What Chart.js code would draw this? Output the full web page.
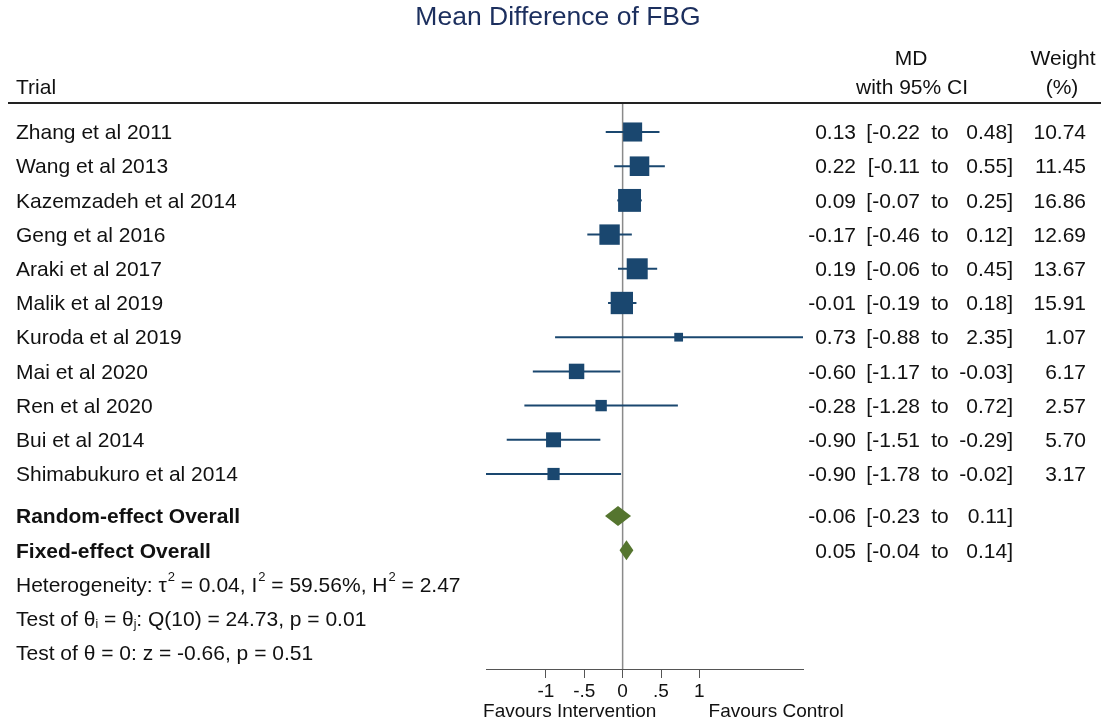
<!DOCTYPE html>
<html>
<head>
<meta charset="utf-8">
<title>Mean Difference of FBG</title>
<script src="https://cdn.jsdelivr.net/npm/chart.js@4.4.0/dist/chart.umd.min.js"></script>
<style>
  html, body { margin: 0; padding: 0; background: #fff; }
  canvas { display: block; }
</style>
</head>
<body>
<canvas id="forest" width="1101" height="723"></canvas>
<script>
// study-level results
const trials = ['Zhang et al 2011', 'Wang et al 2013', 'Kazemzadeh et al 2014', 'Geng et al 2016',
  'Araki et al 2017', 'Malik et al 2019', 'Kuroda et al 2019', 'Mai et al 2020', 'Ren et al 2020',
  'Bui et al 2014', 'Shimabukuro et al 2014'];
const md = [0.13, 0.22, 0.09, -0.17, 0.19, -0.01, 0.73, -0.60, -0.28, -0.90, -0.90];
const ciLow = [-0.22, -0.11, -0.07, -0.46, -0.06, -0.19, -0.88, -1.17, -1.28, -1.51, -1.78];
const ciHigh = [0.48, 0.55, 0.25, 0.12, 0.45, 0.18, 2.35, -0.03, 0.72, -0.29, -0.02];
const weights = [10.74, 11.45, 16.86, 12.69, 13.67, 15.91, 1.07, 6.17, 2.57, 5.70, 3.17];

// pooled estimates
const overallLabels = ['Random-effect Overall', 'Fixed-effect Overall'];
const overallMd = [-0.06, 0.05];
const overallLow = [-0.23, -0.04];
const overallHigh = [0.11, 0.14];

// x axis
const xTicks = [-1, -0.5, 0, 0.5, 1];
const xTickLabels = ['-1', '-.5', '0', '.5', '1'];
const xMin = -1.78, xMax = 2.35;

// footnote lines: [text, 'sup' | 'sub' | undefined]
const statLines = [
  [['Heterogeneity: \u03c4'], ['2', 'sup'], [' = 0.04, I'], ['2', 'sup'], [' = 59.56%, H'], ['2', 'sup'], [' = 2.47']],
  [['Test of \u03b8'], ['i', 'sub'], [' = \u03b8'], ['j', 'sub'], [': Q(10) = 24.73, p = 0.01']],
  [['Test of \u03b8 = 0: z = -0.66, p = 0.51']]
];

const FONT = '"Liberation Sans", Arial, sans-serif';
const BODY = '21px ' + FONT;
const NAVY = '#1a476f';
const GREEN = '#55752f';

// row layout (in y-scale units, one unit per trial row)
const gap = 0.23;
const overallRow = i => trials.length + gap + i;
const statRow = i => trials.length + overallLabels.length + gap + i;
const yMin = -0.848, yMax = 15.702;

const fmt = v => v.toFixed(2);

const squareSide = w => 4 + 4.6 * Math.sqrt(w);

const ciSets = trials.map((t, i) => ({
  type: 'line',
  data: [{ x: ciLow[i], y: i }, { x: ciHigh[i], y: i }],
  borderColor: NAVY,
  borderWidth: 2,
  pointRadius: 0,
  clip: false,
  order: 2
}));

const forestText = {
  id: 'forestText',
  afterDatasetsDraw(chart) {
    const ctx = chart.ctx;
    const xs = chart.scales.x, ys = chart.scales.y;
    const rowY = r => ys.getPixelForValue(r) + 1.5;

    // pooled diamonds
    ctx.save();
    ctx.fillStyle = GREEN;
    overallMd.forEach((m, i) => {
      const y = ys.getPixelForValue(overallRow(i));
      ctx.beginPath();
      ctx.moveTo(xs.getPixelForValue(overallLow[i]), y);
      ctx.lineTo(xs.getPixelForValue(m), y - 10);
      ctx.lineTo(xs.getPixelForValue(overallHigh[i]), y);
      ctx.lineTo(xs.getPixelForValue(m), y + 10);
      ctx.closePath();
      ctx.fill();
    });

    // title
    ctx.fillStyle = '#1c2f5e';
    ctx.textBaseline = 'middle';
    ctx.textAlign = 'center';
    ctx.font = '26.5px ' + FONT;
    ctx.fillText('Mean Difference of FBG', 558, 18);

    // column headings
    ctx.fillStyle = '#111';
    ctx.font = BODY;
    ctx.textAlign = 'left';
    ctx.fillText('Trial', 16, 88);
    ctx.textAlign = 'center';
    ctx.fillText('MD', 911, 59);
    ctx.fillText('with 95% CI', 912, 88);
    ctx.fillText('Weight', 1063, 59);
    ctx.fillText('(%)', 1062, 88);

    ctx.strokeStyle = '#222';
    ctx.lineWidth = 2;
    ctx.beginPath();
    ctx.moveTo(8, 103);
    ctx.lineTo(1101, 103);
    ctx.stroke();

    const ciText = (y, m, lo, hi) => {
      ctx.textAlign = 'right';
      ctx.fillText(fmt(m), 856, y);
      ctx.fillText('[' + fmt(lo), 920, y);
      ctx.fillText(fmt(hi) + ']', 1013, y);
      ctx.textAlign = 'center';
      ctx.fillText('to', 940, y);
    };

    ctx.font = BODY;
    trials.forEach((t, i) => {
      const y = rowY(i);
      ctx.textAlign = 'left';
      ctx.fillText(t, 16, y);
      ciText(y, md[i], ciLow[i], ciHigh[i]);
      ctx.textAlign = 'right';
      ctx.fillText(fmt(weights[i]), 1086, y);
    });

    overallLabels.forEach((t, i) => {
      const y = rowY(overallRow(i));
      ctx.font = 'bold ' + BODY;
      ctx.textAlign = 'left';
      ctx.fillText(t, 16, y);
      ctx.font = BODY;
      ciText(y, overallMd[i], overallLow[i], overallHigh[i]);
    });

    // heterogeneity and tests
    ctx.textAlign = 'left';
    statLines.forEach((parts, i) => {
      const y = rowY(statRow(i));
      let x = 16;
      parts.forEach(([txt, kind]) => {
        if (kind === 'sup') {
          ctx.font = '13px ' + FONT;
          ctx.fillText(txt, x + 1, y - 9);
          x += ctx.measureText(txt).width + 1;
        } else if (kind === 'sub') {
          ctx.font = '12px ' + FONT;
          ctx.fillText(txt, x, y + 5);
          x += ctx.measureText(txt).width;
        } else {
          ctx.font = BODY;
          ctx.fillText(txt, x, y);
          x += ctx.measureText(txt).width;
        }
      });
    });

    // axis captions
    ctx.font = '19px ' + FONT;
    ctx.textAlign = 'center';
    ctx.fillText('Favours Intervention', xs.getPixelForValue(-0.69), 712);
    ctx.fillText('Favours Control', xs.getPixelForValue(2.0), 712);
    ctx.restore();
  }
};

new Chart(document.getElementById('forest'), {
  type: 'scatter',
  data: {
    datasets: [
      {
        label: 'MD',
        data: md.map((v, i) => ({ x: v, y: i })),
        pointStyle: 'rect',
        pointRadius: weights.map(w => squareSide(w) / (2 * Math.SQRT1_2)),
        pointBackgroundColor: NAVY,
        pointBorderWidth: 0,
        clip: false,
        order: 1
      },
      ...ciSets,
      {
        type: 'line',
        label: 'no effect',
        data: [{ x: 0, y: yMin }, { x: 0, y: yMax }],
        borderColor: '#8a8a8a',
        borderWidth: 1.5,
        pointRadius: 0,
        clip: false,
        order: 3
      }
    ]
  },
  options: {
    responsive: false,
    animation: false,
    devicePixelRatio: 1,
    events: [],
    layout: { padding: { left: 486, right: 298, top: 103, bottom: 0 } },
    plugins: { legend: { display: false }, tooltip: { enabled: false } },
    scales: {
      x: {
        type: 'linear',
        min: xMin,
        max: xMax,
        afterBuildTicks: s => { s.ticks = xTicks.map(v => ({ value: v })); },
        afterFit: s => { s.height = 54; },
        grid: { drawOnChartArea: false, drawTicks: true, tickLength: 9, color: '#555' },
        border: { display: true, color: '#555', width: 1 },
        ticks: {
          padding: 2,
          color: '#111',
          maxRotation: 0,
          autoSkip: false,
          font: { family: FONT, size: 19 },
          callback: v => xTickLabels[xTicks.indexOf(v)]
        }
      },
      y: {
        type: 'linear',
        reverse: true,
        min: yMin,
        max: yMax,
        display: false
      }
    }
  },
  plugins: [forestText]
});
</script>
</body>
</html>
